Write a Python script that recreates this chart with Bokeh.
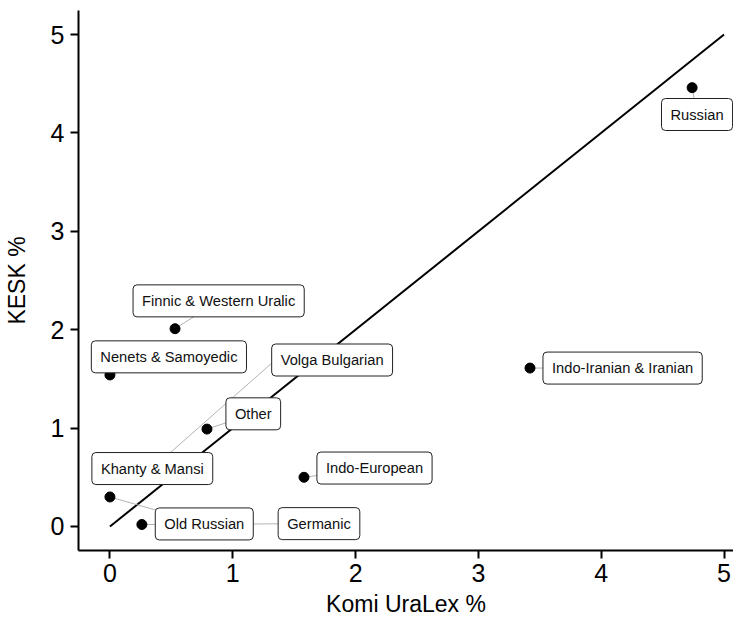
from bokeh.plotting import figure
from bokeh.models import ColumnDataSource, Range1d, FixedTicker
from bokeh.core.properties import value
from bokeh.embed import file_html
from bokeh.resources import INLINE

# ---- data ----
groups = ["Russian", "Indo-Iranian & Iranian", "Finnic & Western Uralic",
          "Nenets & Samoyedic", "Volga Bulgarian", "Other", "Khanty & Mansi",
          "Indo-European", "Old Russian", "Germanic"]
komi_uralex = [4.74, 3.42, 0.53, 0.0, 1.55, 0.79, 1.39, 1.58, 0.0, 0.26]
kesk = [4.46, 1.61, 2.01, 1.54, 1.70, 0.99, 1.74, 0.50, 0.30, 0.02]
ref_x = [0, 5]
ref_y = [0, 5]
ticks = [0, 1, 2, 3, 4, 5]

# ---- label layout (repel offsets, data units) ----
label_dx = [0.04, 0.754, 0.355, 0.480, 0.259, 0.377, -1.045, 0.574, 0.768, 1.442]
label_dy = [-0.273, 0.0, 0.283, 0.184, -0.008, 0.155, -1.151, 0.094, -0.274, 0.009]

lx = [x + d for x, d in zip(komi_uralex, label_dx)]
ly = [y + d for y, d in zip(kesk, label_dy)]
src = ColumnDataSource(dict(x=komi_uralex, y=kesk, lx=lx, ly=ly, label=groups))

FONT = "Liberation Sans"

p = figure(width=733, height=623, output_backend="svg", toolbar_location=None,
           x_range=Range1d(-0.256, 5.077), y_range=Range1d(-0.244, 5.244),
           min_border_left=77, min_border_right=0, min_border_top=10,
           min_border_bottom=73)
p.outline_line_color = None
p.xgrid.visible = False
p.ygrid.visible = False

for ax in (p.xaxis[0], p.yaxis[0]):
    ax.ticker = FixedTicker(ticks=ticks)
    ax.axis_line_width = 2
    ax.axis_line_color = "black"
    ax.major_tick_line_width = 2
    ax.major_tick_line_color = "black"
    ax.major_tick_out = 8
    ax.major_tick_in = 0
    ax.minor_tick_line_color = None
    ax.major_label_text_font = FONT
    ax.major_label_text_font_size = "25px"
    ax.major_label_text_color = "black"
    ax.axis_label_text_font = FONT
    ax.axis_label_text_font_size = "23px"
    ax.axis_label_text_font_style = "normal"
    ax.axis_label_text_color = "black"

p.xaxis.axis_label = "Komi UraLex %"
p.yaxis.axis_label = "KESK %"
p.xaxis.major_label_standoff = 5
p.yaxis.major_label_standoff = 6
p.xaxis.axis_label_standoff = 6
p.yaxis.axis_label_standoff = 18

p.line(ref_x, ref_y, line_color="black", line_width=2)
p.segment(x0="x", y0="y", x1="lx", y1="ly", source=src,
          line_color="#aaaaaa", line_width=0.9)
p.scatter(x="x", y="y", source=src, size=10, color="black")
p.text(x="lx", y="ly", text="label", source=src,
       text_font=value(FONT), text_font_size="14.7px", text_color="#111111",
       text_align="center", text_baseline="middle",
       background_fill_color="white", border_line_color="#222222",
       border_line_width=1,
       padding=dict(left=9, right=9, top=8, bottom=8), border_radius=4)

open("out.html", "w").write(file_html(p, INLINE))
